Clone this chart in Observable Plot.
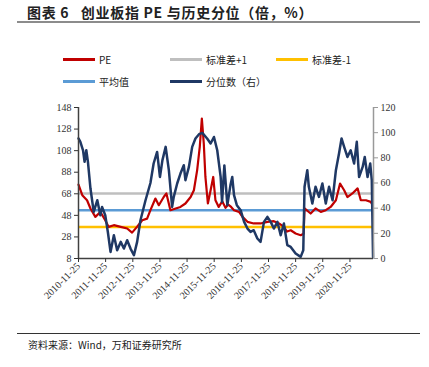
<!DOCTYPE html>
<html><head><meta charset="utf-8">
<script src="https://cdn.jsdelivr.net/npm/d3@7"></script>
<script src="https://cdn.jsdelivr.net/npm/@observablehq/plot@0.6"></script>
<style>
body{margin:0;background:#fff;}
#wrap{position:relative;width:429px;height:367px;overflow:hidden;font-family:"Noto Sans CJK SC","DejaVu Serif",serif;color:#222;}
#title{position:absolute;left:27px;top:2px;font-size:14px;font-weight:bold;letter-spacing:0.7px;white-space:nowrap;}
#rule1{position:absolute;left:17px;top:21px;width:403px;height:2px;background:#8c8c8c;}
.leg{position:absolute;font-size:10px;white-space:nowrap;display:flex;align-items:center;}
.leg i{display:inline-block;width:32px;height:3px;margin-right:4px;}
#rule2{position:absolute;left:17px;top:333px;width:403px;height:1px;background:#333;}
#cap{position:absolute;left:28px;top:337px;font-size:10px;white-space:nowrap;}
#chart{position:absolute;left:0;top:95px;}
</style></head>
<body>
<div id="wrap">
  <div id="title">图表 6&nbsp;&nbsp;&nbsp;创业板指 PE 与历史分位（倍，%）</div>
  <div id="rule1"></div>
  <div id="legend"></div>
  <div id="chart"></div>
  <div id="rule2"></div>
  <div id="cap">资料来源：Wind，万和证券研究所</div>
</div>
<script>
// PE (left axis)
const peDates = ["2010-11-25","2011-01-15","2011-03-20","2011-05-05","2011-07-10","2011-09-15","2011-11-20","2012-01-05","2012-03-15","2012-06-15","2012-09-10","2012-11-15","2013-01-20","2013-04-01","2013-06-05","2013-07-20","2013-09-25","2013-11-10","2014-01-15","2014-02-20","2014-04-15","2014-06-25","2014-08-28","2014-11-03","2015-01-12","2015-02-25","2015-04-10","2015-05-15","2015-06-12","2015-07-08","2015-07-30","2015-09-01","2015-10-08","2015-11-12","2015-12-12","2016-01-25","2016-03-12","2016-04-25","2016-06-01","2016-07-10","2016-08-18","2016-10-25","2016-12-10","2017-02-15","2017-05-10","2017-08-10","2017-11-10","2018-02-05","2018-04-15","2018-06-20","2018-08-01","2018-09-20","2018-11-25","2019-02-01","2019-03-12","2019-03-25","2019-06-15","2019-08-20","2019-10-30","2020-01-05","2020-03-10","2020-05-20","2020-07-15","2020-09-08","2020-10-22","2020-12-28","2021-03-08","2021-04-20","2021-06-28","2021-09-01","2021-09-28"];
const peValues = [76.6,66.7,62,54.4,46.6,51.2,43.5,37.3,38.9,37.3,35.8,32,37.3,43.5,45,52.8,63.6,57.4,65,68.3,52.8,54.4,55.8,59,65,71.3,90,111.5,137.8,114.6,83.6,59,71.3,83.6,62,55.8,61,55,58,55.8,52.8,51.2,46.6,42,40.5,40.5,42,42.6,40.5,37.3,33,34.2,31.2,29.6,31,54.4,49.7,54.4,51.2,52.8,55.8,62,77.5,71.3,65,68.3,73,62,62,60.5,57.4];
// Percentile (right axis, %)
const pctDates = ["2010-11-25","2010-12-20","2011-01-25","2011-02-15","2011-03-10","2011-04-01","2011-05-05","2011-06-18","2011-08-05","2011-09-15","2011-10-08","2011-11-20","2011-12-25","2012-01-30","2012-03-15","2012-04-28","2012-06-15","2012-07-28","2012-09-10","2012-10-25","2012-12-10","2013-01-22","2013-03-08","2013-05-15","2013-07-20","2013-09-01","2013-10-18","2013-11-25","2013-12-28","2014-02-10","2014-03-25","2014-05-08","2014-05-30","2014-07-15","2014-08-28","2014-10-12","2014-11-03","2014-12-20","2015-02-02","2015-03-18","2015-05-05","2015-06-18","2015-08-22","2015-10-08","2015-11-22","2016-01-05","2016-02-20","2016-03-10","2016-04-10","2016-05-20","2016-07-01","2016-07-25","2016-08-18","2016-09-25","2016-11-15","2017-01-01","2017-02-15","2017-03-28","2017-05-10","2017-06-28","2017-08-10","2017-09-25","2017-11-10","2017-12-25","2018-02-05","2018-03-25","2018-05-08","2018-06-20","2018-08-05","2018-09-20","2018-11-25","2019-02-01","2019-03-08","2019-03-25","2019-05-01","2019-05-22","2019-07-08","2019-08-20","2019-10-05","2019-11-20","2020-01-05","2020-02-18","2020-04-05","2020-05-20","2020-07-01","2020-08-04","2020-09-08","2020-10-22","2020-12-05","2021-01-20","2021-02-25","2021-03-28","2021-05-15","2021-06-12","2021-07-20","2021-08-25","2021-09-15","2021-10-02"];
const pctValues = [95.4,92.7,86,76.8,86,76.8,55.6,37,46.3,34.4,41,34.4,21.1,5.2,18.5,6.6,13.2,7.9,14.5,7.9,2.6,13.2,30.4,46.3,60,75.5,84.7,64.8,78,88.7,70.2,41,49,59.6,67.5,74.1,62.2,72.8,88.7,95.4,98.8,99.8,95.4,91.4,96.6,86,64.8,45,74,42.4,58.3,64.8,50.3,42.4,38.4,29.1,23.8,21.1,22.5,15.9,13.2,29.1,33.1,29.1,23.8,29.1,18.5,27.8,10.6,9.2,4,1.3,6.6,57,70.2,57,43.7,57,49,59.6,43.7,57,46.3,70.2,83.4,95.4,88.7,80.7,86,75.5,92.7,64.8,72.8,80.7,64.8,75.5,62.2,1];
// Reference levels (PE)
const refNames = ["标准差+1","平均值","标准差-1"];
const refValues = [68.3,52.8,37.3];
const refColors = ["#BFBFBF","#5B9BD5","#FFC000"];
// Axes
const leftTicks = [8,28,48,68,88,108,128,148];
const rightTicks = [0,20,40,60,80,100,120];
const xTickLabels = ["2010-11-25","2011-11-25","2012-11-25","2013-11-25","2014-11-25","2015-11-25","2016-11-25","2017-11-25","2018-11-25","2019-11-25","2020-11-25"];
// Legend
const legendItems = [
  {name:"PE", color:"#C00000"},
  {name:"标准差+1", color:"#BFBFBF"},
  {name:"标准差-1", color:"#FFC000"},
  {name:"平均值", color:"#5B9BD5"},
  {name:"分位数（右）", color:"#1F3864"}
];

const parse = d3.utcParse("%Y-%m-%d");
const pe = peDates.map((d,i)=>({date:parse(d), v:peValues[i]}));
const pct = pctDates.map((d,i)=>({date:parse(d), v:pctValues[i]}));
const yMin = 8, yMax = 148, pMax = 120;
const toLeft = p => yMin + p*(yMax-yMin)/pMax;
const toRight = v => (v-yMin)*pMax/(yMax-yMin);
const xStart = parse("2010-11-25"), xEnd = parse("2021-10-08");
const refs = refValues.map((v,i)=>({name:refNames[i], v, color:refColors[i]}));

// legend html
const legPos = [[63,52],[170,52],[276,52],[63,74],[170,74]];
const legEl = document.getElementById("legend");
legendItems.forEach((it,i)=>{
  const d = document.createElement("div");
  d.className="leg";
  d.style.left = legPos[i][0]+"px"; d.style.top = legPos[i][1]+"px";
  d.innerHTML = `<i style="background:${it.color}"></i><span>${it.name}</span>`;
  legEl.appendChild(d);
});

const fontSerif = "'Liberation Serif','DejaVu Serif',serif";
const chart = Plot.plot({
  width: 429, height: 220,
  marginLeft: 78, marginRight: 56, marginTop: 12, marginBottom: 57,
  style: {fontFamily: fontSerif, fontSize: "10px", color:"#333", background:"transparent"},
  x: {type:"utc", domain:[xStart, xEnd]},
  y: {domain:[yMin, yMax]},
  marks: [
    Plot.ruleY(refs, {y:"v", stroke:"color", strokeWidth:2.5}),
    Plot.line(pe, {x:"date", y:"v", stroke:"#C00000", strokeWidth:2.2}),
    Plot.line(pct, {x:"date", y: d=>toLeft(d.v), stroke:"#1F3864", strokeWidth:2.5}),
    Plot.ruleX([xStart], {stroke:"#404040", strokeWidth:1.5}),
    Plot.ruleX([xEnd], {stroke:"#999", strokeWidth:1.5}),
    Plot.ruleY([yMin], {stroke:"#404040", strokeWidth:1.5}),
    Plot.axisY({ticks: leftTicks, tickSize:4, tickPadding:3, label:null, fill:"#333"}),
    Plot.axisY({anchor:"right", ticks: rightTicks.map(toLeft), tickFormat: v=>String(Math.round(toRight(v))), tickSize:4, tickPadding:3, label:null, fill:"#333", stroke:"#999"}),
    Plot.axisX({ticks: xTickLabels.map(parse), tickFormat: d3.utcFormat("%Y-%m-%d"), tickRotate:-45, tickSize:4, tickPadding:2, label:null, fill:"#333"})
  ]
});
document.getElementById("chart").appendChild(chart);
</script>
</body></html>
